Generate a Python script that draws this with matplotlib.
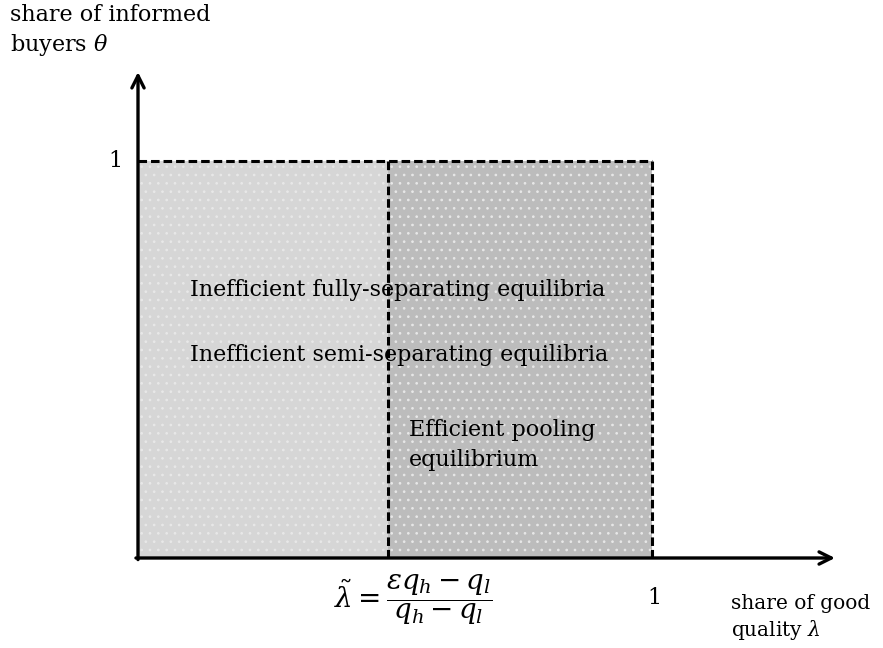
import matplotlib
matplotlib.use("Agg")
import matplotlib.pyplot as plt
from matplotlib.patches import Rectangle

# ---- data ----
lambda_tilde = 0.486      # threshold share of good quality
x_max = 1.0
y_max = 1.0
region_labels = ["Inefficient fully-separating equilibria",
                 "Inefficient semi-separating equilibria"]
pooling_label = "Efficient pooling\nequilibrium"
y_label = "share of informed\nbuyers $\\theta$"
x_label = "share of good\nquality $\\lambda$"
threshold_label = r"$\tilde{\lambda} = \dfrac{\varepsilon q_h - q_l}{q_h - q_l}$"
tick_one = "1"

plt.rcParams['font.family'] = ['DejaVu Serif']
plt.rcParams['mathtext.fontset'] = 'dejavuserif'
plt.rcParams['hatch.linewidth'] = 0.7

fig = plt.figure(figsize=(8.83, 6.48), dpi=100)
ax = fig.add_axes([0, 0, 1, 1])
ax.set_xlim(-138/514, (883-138)/514)
ax.set_ylim((558-648)/397, 558/397)
ax.axis('off')

left_col = '#d6d6d6'
right_col = '#bcbcbc'
ax.add_patch(Rectangle((0, 0), lambda_tilde, y_max, facecolor=left_col, edgecolor='none', zorder=1))
ax.add_patch(Rectangle((lambda_tilde, 0), x_max - lambda_tilde, y_max, facecolor=right_col, edgecolor='none', zorder=1))
ax.add_patch(Rectangle((0, 0), x_max, y_max, facecolor='none', edgecolor='#e8e8e8', hatch='..', linewidth=0, zorder=2))

dash = dict(color='black', lw=2.2, linestyle=(0, (2.8, 1.3)), zorder=3)
ax.plot([0, x_max], [y_max, y_max], **dash)
ax.plot([lambda_tilde, lambda_tilde], [0, y_max], **dash)
ax.plot([x_max, x_max], [0, y_max], **dash)

arrow = dict(arrowstyle='->', lw=2.4, color='black', mutation_scale=22, shrinkA=0, shrinkB=0)
ax.annotate('', xy=(0, (558-72)/397), xytext=(0, -0.004), arrowprops=arrow, zorder=4)
ax.annotate('', xy=((835-138)/514, 0), xytext=(-0.004, 0), arrowprops=arrow, zorder=4)

fs = 16
ax.text(-128/514, (558-4)/397, y_label, fontsize=fs, ha='left', va='top', linespacing=1.3)
ax.text(-0.03, y_max, tick_one, fontsize=fs, ha='right', va='center')
ax.text(52/514, (558-290)/397, region_labels[0], fontsize=fs, ha='left', va='center', zorder=5)
ax.text(52/514, (558-355)/397, region_labels[1], fontsize=fs, ha='left', va='center', zorder=5)
ax.text(271/514, (558-445)/397, pooling_label, fontsize=fs, ha='left', va='center', linespacing=1.5, zorder=5)
ax.text((413-138)/514, (558-600)/397, threshold_label, fontsize=20, ha='center', va='center')
ax.text(x_max + 0.005, (558-598)/397, tick_one, fontsize=fs, ha='center', va='center')
ax.text((731-138)/514, (558-618)/397, x_label, fontsize=14.5, ha='left', va='center', linespacing=1.3)

fig.savefig('out.png', dpi=100)
